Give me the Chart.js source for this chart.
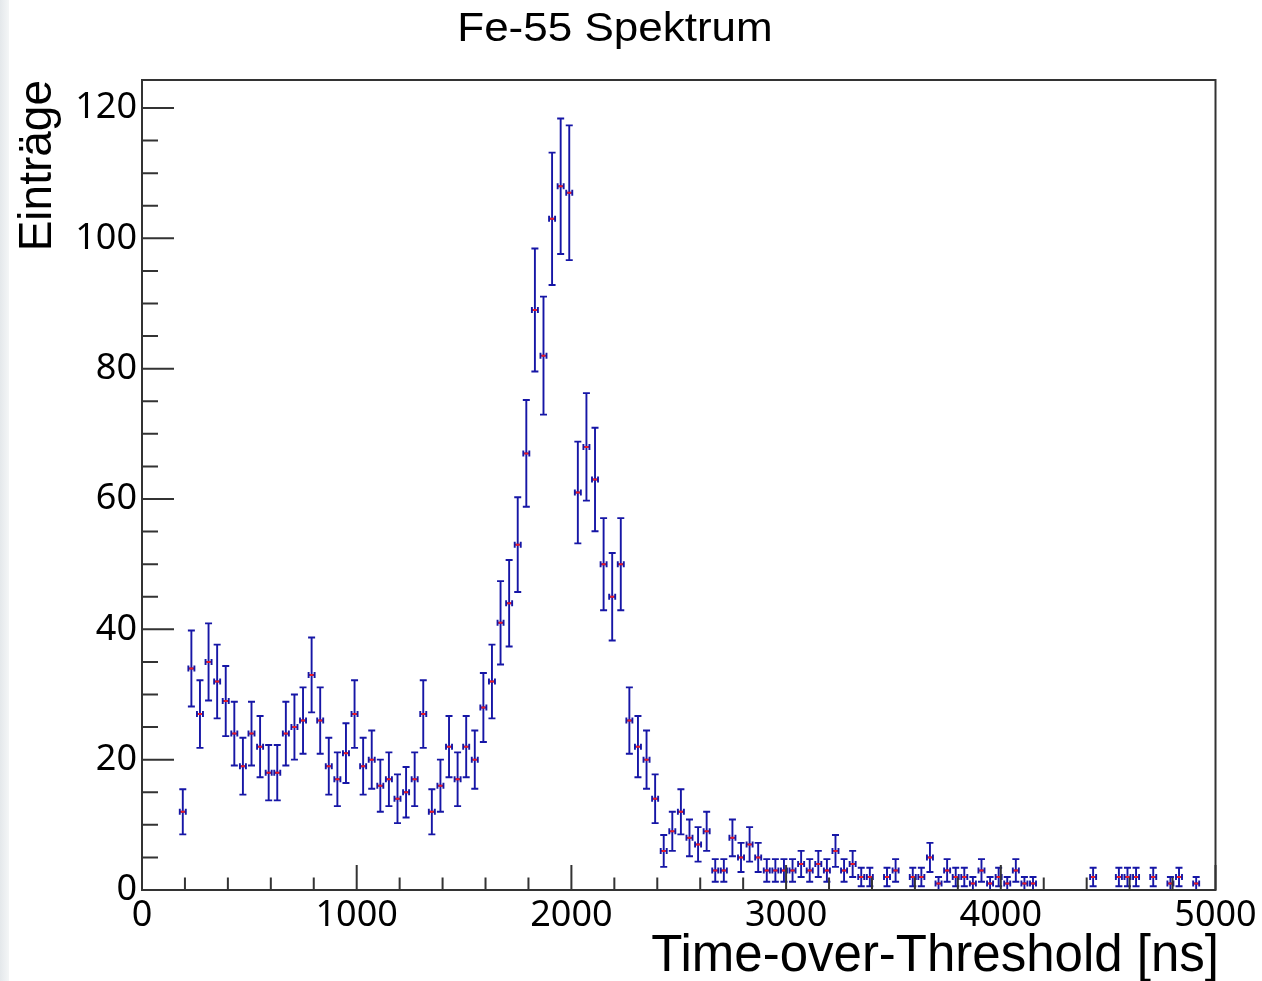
<!DOCTYPE html>
<html>
<head>
<meta charset="utf-8">
<script src="https://cdn.jsdelivr.net/npm/chart.js@4.4.1/dist/chart.umd.min.js"></script>
<style>
  html, body { margin: 0; padding: 0; background: #fff; }
  #wrap { position: relative; width: 1262px; height: 981px; overflow: hidden; }
  #edge { position: absolute; left: 0; top: 0; width: 9px; height: 981px; background: linear-gradient(to right, #e4e8eb, #f4f6f7); }
  canvas { position: absolute; left: 0; top: 0; }
</style>
</head>
<body>
<div id="wrap"><div id="edge"></div><canvas id="spectrum" width="1262" height="981"></canvas></div>
<script>
// Fe-55 spectrum, 40 ns bins (bin centres in ns)
const binCenters = [
  190, 230, 270, 310, 350, 390, 430, 470, 510, 550,
  590, 630, 670, 710, 750, 790, 830, 870, 910, 950,
  990, 1030, 1070, 1110, 1150, 1190, 1230, 1270, 1310, 1350,
  1390, 1430, 1470, 1510, 1550, 1590, 1630, 1670, 1710, 1750,
  1790, 1830, 1870, 1910, 1950, 1990, 2030, 2070, 2110, 2150,
  2190, 2230, 2270, 2310, 2350, 2390, 2430, 2470, 2510, 2550,
  2590, 2630, 2670, 2710, 2750, 2790, 2830, 2870, 2910, 2950,
  2990, 3030, 3070, 3110, 3150, 3190, 3230, 3270, 3310, 3350,
  3390, 3430, 3470, 3510, 3550, 3590, 3630, 3670, 3710, 3750,
  3790, 3830, 3870, 3910, 3950, 3990, 4030, 4070, 4110, 4150,
  4190, 4230, 4270, 4310, 4350, 4390, 4430, 4470, 4510, 4550,
  4590, 4630, 4670, 4710, 4750, 4790, 4830, 4870, 4910
];
const entries = [
  12, 34, 27, 35, 32, 29, 24, 19, 24, 22,
  18, 18, 24, 25, 26, 33, 26, 19, 17, 21,
  27, 19, 20, 16, 17, 14, 15, 17, 27, 12,
  16, 22, 17, 22, 20, 28, 32, 41, 44, 53,
  67, 89, 82, 103, 108, 107, 61, 68, 63, 50,
  45, 50, 26, 22, 20, 14, 6, 9, 12, 8,
  7, 9, 3, 3, 8, 5, 7, 5, 3, 3,
  3, 3, 4, 3, 4, 3, 6, 3, 4, 2,
  2, 0, 2, 3, 0, 2, 2, 5, 1, 3,
  2, 2, 1, 3, 1, 2, 1, 3, 1, 1,
  0, 0, 0, 0, 0, 0, 2, 0, 0, 2,
  2, 2, 0, 2, 0, 1, 2, 0, 1
];
const xTickLabels = [0, 1000, 2000, 3000, 4000, 5000];
const yTickLabels = [0, 20, 40, 60, 80, 100, 120];

const X_ERR = 14;      // ns, half width of the horizontal bar
const CAP = 3.5;       // px
const BLUE = '#1616a6';

// empty bins are not drawn (like ROOT "E")
const points = [];
binCenters.forEach((c, i) => {
  if (entries[i] > 0) points.push({ x: c, y: entries[i], err: Math.sqrt(entries[i]) });
});

const rootStyle = {
  id: 'rootStyle',
  beforeDatasetsDraw(chart) {
    const { ctx, scales: { x, y } } = chart;
    ctx.save();
    ctx.strokeStyle = BLUE;
    ctx.lineWidth = 1.9;
    points.forEach(p => {
      const px = x.getPixelForValue(p.x), py = y.getPixelForValue(p.y);
      const top = y.getPixelForValue(p.y + p.err), bot = y.getPixelForValue(p.y - p.err);
      const xl = x.getPixelForValue(p.x - X_ERR), xr = x.getPixelForValue(p.x + X_ERR);
      ctx.beginPath();
      ctx.moveTo(px, top); ctx.lineTo(px, bot);
      ctx.moveTo(px - CAP, top); ctx.lineTo(px + CAP, top);
      ctx.moveTo(px - CAP, bot); ctx.lineTo(px + CAP, bot);
      ctx.moveTo(xl, py); ctx.lineTo(xr, py);
      ctx.moveTo(xl, py - 3); ctx.lineTo(xl, py + 3);
      ctx.moveTo(xr, py - 3); ctx.lineTo(xr, py + 3);
      ctx.stroke();
    });
    ctx.restore();
  },
  afterDraw(chart) {
    const { ctx, chartArea: a, scales: { x, y } } = chart;
    ctx.save();
    ctx.strokeStyle = '#333';
    ctx.lineWidth = 2;
    ctx.strokeRect(a.left, a.top, a.right - a.left, a.bottom - a.top);

    ctx.beginPath();
    y.ticks.forEach(t => {
      const py = y.getPixelForValue(t.value);
      const len = yTickLabels.includes(t.value) ? 32 : 16;
      ctx.moveTo(a.left, py); ctx.lineTo(a.left + len, py);
    });
    x.ticks.forEach(t => {
      const px = x.getPixelForValue(t.value);
      const len = xTickLabels.includes(t.value) ? 25 : 12.5;
      ctx.moveTo(px, a.bottom); ctx.lineTo(px, a.bottom - len);
    });
    ctx.stroke();

    ctx.fillStyle = '#000';
    // main title
    ctx.save();
    ctx.font = '40px "Liberation Sans", Arial, sans-serif';
    ctx.textAlign = 'center';
    ctx.textBaseline = 'alphabetic';
    ctx.translate(615, 41);
    ctx.scale(1.1, 1);
    ctx.fillText('Fe-55 Spektrum', 0, 0);
    ctx.restore();

    // y title, right aligned to the top of the frame
    ctx.save();
    ctx.font = '46px "Liberation Sans", Arial, sans-serif';
    ctx.textAlign = 'right';
    ctx.textBaseline = 'alphabetic';
    ctx.translate(50.5, a.top);
    ctx.rotate(-Math.PI / 2);
    ctx.fillText('Einträge', 0, 0);
    ctx.restore();

    // x title, right aligned to the frame
    ctx.font = '51px "Liberation Sans", Arial, sans-serif';
    ctx.textAlign = 'right';
    ctx.textBaseline = 'alphabetic';
    ctx.fillText('Time-over-Threshold [ns]', 1219, 971);
    ctx.restore();
  }
};

new Chart(document.getElementById('spectrum'), {
  type: 'scatter',
  data: {
    datasets: [{
      data: points,
      pointStyle: 'line',
      pointRadius: 2,
      pointBorderWidth: 2,
      pointBorderColor: '#ee1c24',
      pointBackgroundColor: '#ee1c24',
      showLine: false
    }]
  },
  options: {
    responsive: false,
    animation: false,
    devicePixelRatio: 1,
    events: [],
    layout: { padding: { left: 0, top: 80, right: 46.5, bottom: 41 } },
    plugins: { legend: { display: false }, tooltip: { enabled: false }, title: { display: false } },
    scales: {
      x: {
        type: 'linear',
        min: 0,
        max: 5000,
        grid: { display: false, drawTicks: false },
        border: { display: false },
        ticks: {
          stepSize: 200,
          autoSkip: false,
          maxRotation: 0,
          padding: 4,
          color: '#000',
          font: { family: '"Noto Sans", sans-serif', size: 36 },
          callback: v => xTickLabels.includes(v) ? String(v) : ''
        },
        afterFit(s) { s.height = 50; }
      },
      y: {
        type: 'linear',
        min: 0,
        max: 124.3,
        grid: { display: false, drawTicks: false },
        border: { display: false },
        ticks: {
          stepSize: 5,
          includeBounds: false,
          autoSkip: false,
          padding: 5,
          color: '#000',
          font: { family: '"Noto Sans", sans-serif', size: 36 },
          callback: v => yTickLabels.includes(v) ? String(v) : ''
        },
        afterFit(s) { s.width = 142; }
      }
    }
  },
  plugins: [rootStyle]
});
</script>
</body>
</html>
